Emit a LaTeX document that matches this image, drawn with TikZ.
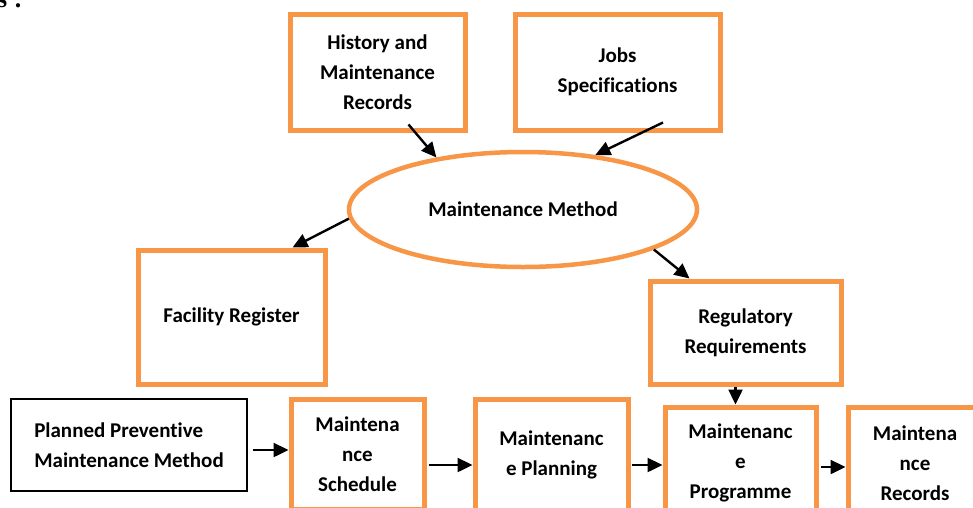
\documentclass[tikz,border=0pt]{standalone}
\usepackage{fontspec}
\setmainfont{Carlito}[Ligatures={NoCommon}]
\newfontfamily\headfont{Liberation Serif}
\usetikzlibrary{shapes.geometric, arrows.meta}
\definecolor{accorange}{HTML}{F79646}

\begin{document}
\begin{tikzpicture}[
    x=1pt, y=-1pt,
    txt/.style={font=\bfseries\fontsize{21}{30}\selectfont},
    block/.style={rectangle, draw=accorange, line width=5pt, align=center, inner sep=0pt, txt},
    plainblock/.style={rectangle, draw=black, line width=1.6pt, align=left, inner sep=0pt, txt},
    method/.style={ellipse, draw=accorange, line width=4.5pt, inner sep=0pt, txt},
    arrow/.style={-{Triangle[length=15pt,width=14pt]}, line width=2.4pt}
]
\useasboundingbox (0,0) rectangle (973,507);
\clip (0,0) rectangle (973,507);

% cut-off heading
\node[anchor=base west, inner sep=0pt, font=\headfont\bfseries\fontsize{26}{30}\selectfont] (head) at (-3,7) {s :};

% upper part
\node[block, minimum width=175pt, minimum height=116pt] (hist) at (377.5,72) {History and\\Maintenance\\Records};
\node[block, minimum width=205pt, minimum height=116pt] (jobs) at (617.5,72) {Jobs\\Specifications};
\node[method, minimum width=348pt, minimum height=115pt] (meth) at (523,209.5) {Maintenance Method};
\node[block, minimum width=187pt, minimum height=134pt] (fac) at (231.5,317) {Facility Register};
\node[block, minimum width=191pt, minimum height=103pt] (reg) at (745.5,332.5) {Regulatory\\Requirements};

% bottom row
\node[plainblock, minimum width=236pt, minimum height=92pt] (plan) at (129,445) {Planned Preventive\\Maintenance Method};
\node[block, minimum width=133pt, minimum height=110pt] (sched) at (357.5,454) {Maintena\\nce\\Schedule};
\node[block, minimum width=153pt, minimum height=112pt] (plng) at (551.5,455) {Maintenanc\\e Planning};
\node[block, minimum width=151pt, minimum height=112pt] (prog) at (740.5,463) {Maintenanc\\e\\Programme};
\node[block, minimum width=134pt, minimum height=112pt] (rec) at (915,463) {Maintena\\nce\\Records};

\draw[arrow] ([xshift=31pt,yshift=8pt]hist.south) -- (meth.149.7);
\draw[arrow] ([xshift=45.5pt,yshift=10pt]jobs.south) -- (meth.37.5);
\draw[arrow] (meth.183) -- ([xshift=-35pt]fac.north east);
\draw[arrow] (meth.-17.7) -- ([xshift=42pt]reg.north west);
\draw[arrow] ([xshift=-10pt]reg.south) -- ([xshift=-10pt]reg.south |- prog.north);
\draw[arrow] ([xshift=5pt,yshift=-5pt]plan.east) -- ([yshift=-5pt]plan.east -| sched.west);
\draw[arrow] ([xshift=2pt,yshift=-11pt]sched.east) -- ([yshift=-11pt]sched.east -| plng.west);
\draw[arrow] ([xshift=1pt,yshift=-10pt]plng.east) -- ([yshift=-10pt]plng.east -| prog.west);
\draw[arrow] ([xshift=2pt,yshift=-4pt]prog.east) -- ([yshift=-4pt]prog.east -| rec.west);
\end{tikzpicture}
\end{document}
